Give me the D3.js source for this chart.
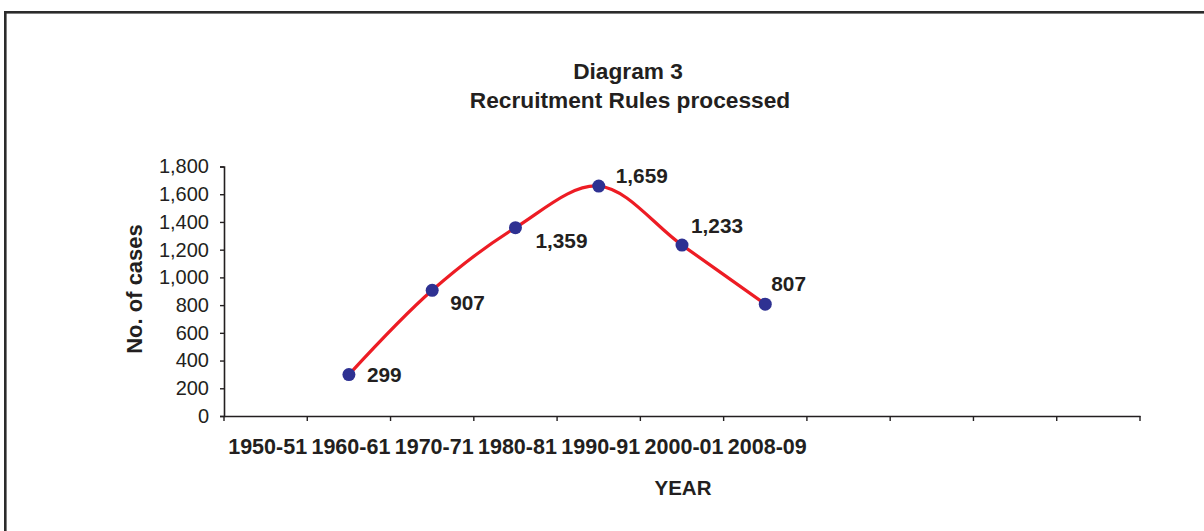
<!DOCTYPE html>
<html>
<head>
<meta charset="utf-8">
<script src="https://cdn.jsdelivr.net/npm/d3@7"></script>
<style>
  html, body { margin: 0; padding: 0; background: #fff; }
  svg { display: block; }
  text { font-family: Arial, "Liberation Sans", Helvetica, sans-serif; fill: #231f20; }
</style>
</head>
<body>
<svg id="chart" width="1204" height="531"></svg>
<script>
const titleLines = ["Diagram 3", "Recruitment Rules processed"];
const categories = ["1950-51", "1960-61", "1970-71", "1980-81", "1990-91", "2000-01", "2008-09", "", "", "", ""];
const values = [null, 299, 907, 1359, 1659, 1233, 807, null, null, null, null];
const yTicks = [0, 200, 400, 600, 800, 1000, 1200, 1400, 1600, 1800];
const yTitle = "No. of cases";
const xTitle = "YEAR";
// label offsets (style only): dx, dy relative to each point
const labelOffsets = [null, [18, 0], [18, 12], [20, 13], [17, -11], [9, -20], [6, -21], null, null, null, null];

const svg = d3.select("#chart");
const W = 1204, H = 531;
const m = { left: 224, right: 1140, top: 166.5, bottom: 416 };

// outer frame (extends beyond right/bottom edges)
svg.append("rect")
  .attr("x", 5.3).attr("y", 12.3)
  .attr("width", W + 20).attr("height", H + 20)
  .attr("fill", "none").attr("stroke", "#2b2b2b").attr("stroke-width", 2.6);

const x = d3.scaleBand().domain(d3.range(categories.length)).range([m.left, m.right]).padding(0);
const y = d3.scaleLinear().domain([0, 1800]).range([m.bottom, m.top]);

// title
svg.append("text").attr("x", 628).attr("y", 79).attr("text-anchor", "middle")
  .style("font-size", "22.7px").style("font-weight", "bold").text(titleLines[0]);
svg.append("text").attr("x", 630).attr("y", 108).attr("text-anchor", "middle")
  .style("font-size", "22.7px").style("font-weight", "bold").text(titleLines[1]);

// y axis
const yAxis = svg.append("g").attr("transform", `translate(${m.left},0)`)
  .call(d3.axisLeft(y).tickValues(yTicks).tickSize(4).tickPadding(11).tickFormat(d3.format(",")));
yAxis.select(".domain").attr("stroke", "#231f20").attr("stroke-width", 1.6);
yAxis.selectAll(".tick line").attr("stroke", "#231f20").attr("stroke-width", 1.4);
yAxis.selectAll(".tick text").style("font-size", "20px").style("font-family", "Arial, 'Liberation Sans', sans-serif").attr("fill", "#231f20");

// x axis
const xAxis = svg.append("g").attr("transform", `translate(0,${m.bottom})`)
  .call(d3.axisBottom(x).tickSize(0).tickPadding(23).tickFormat(i => categories[i]));
xAxis.select(".domain").attr("stroke", "#231f20").attr("stroke-width", 1.6);
xAxis.selectAll(".tick text").style("font-size", "21.5px").style("font-weight", "bold")
  .style("font-family", "Arial, 'Liberation Sans', sans-serif").attr("fill", "#231f20")
  .attr("dx", 2);
// boundary ticks
const bounds = d3.range(categories.length + 1).map(i => i < categories.length ? x(i) : x.range()[1]);
xAxis.selectAll(".btick").data(bounds).enter().append("line")
  .attr("class", "btick")
  .attr("x1", d => d).attr("x2", d => d).attr("y1", 0).attr("y2", 5)
  .attr("stroke", "#231f20").attr("stroke-width", 1.4);

// axis titles
svg.append("text")
  .attr("transform", `translate(142,289) rotate(-90)`)
  .attr("text-anchor", "middle")
  .style("font-size", "22px").style("font-weight", "bold").text(yTitle);
svg.append("text").attr("x", (m.left + m.right) / 2 + 1).attr("y", 495)
  .attr("text-anchor", "middle")
  .style("font-size", "20.5px").style("font-weight", "bold").text(xTitle);

// data
const pts = values.map((v, i) => ({ i, v })).filter(d => d.v !== null);
const line = d3.line()
  .x(d => x(d.i) + x.bandwidth() / 2)
  .y(d => y(d.v))
  .curve(d3.curveCatmullRom.alpha(0.5));
svg.append("path").datum(pts).attr("d", line)
  .attr("fill", "none").attr("stroke", "#ed1c24").attr("stroke-width", 3.2)
  .attr("stroke-linejoin", "round");

svg.selectAll(".pt").data(pts).enter().append("circle")
  .attr("class", "pt")
  .attr("cx", d => x(d.i) + x.bandwidth() / 2)
  .attr("cy", d => y(d.v))
  .attr("r", 6.5)
  .attr("fill", "#2e3192");

svg.selectAll(".lbl").data(pts).enter().append("text")
  .attr("class", "lbl")
  .attr("x", d => x(d.i) + x.bandwidth() / 2 + labelOffsets[d.i][0])
  .attr("y", d => y(d.v) + labelOffsets[d.i][1])
  .attr("dy", "0.36em")
  .style("font-size", "20.8px").style("font-weight", "bold")
  .text(d => d3.format(",")(d.v));
</script>
</body>
</html>
